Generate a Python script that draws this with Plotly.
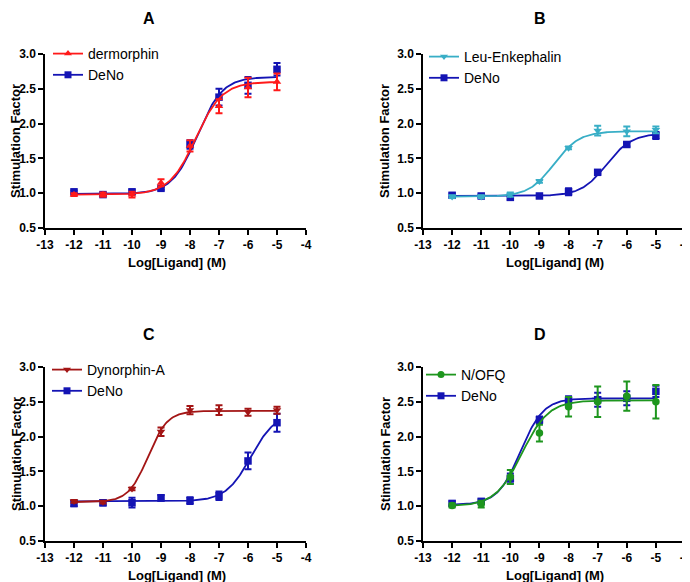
import numpy as np
import plotly.graph_objects as go

# ---------------- data ----------------
log_conc = [-12, -11, -10, -9, -8, -7, -6, -5]

# Panel A
a_derm_mean = [0.98, 0.98, 0.98, 1.15, 1.68, 2.25, 2.52, 2.60]
a_derm_err = [0.02, 0.03, 0.04, 0.05, 0.08, 0.10, 0.14, 0.12]
a_deno_mean = [1.02, 0.98, 1.02, 1.07, 1.70, 2.38, 2.55, 2.78]
a_deno_err = [0.02, 0.02, 0.03, 0.02, 0.06, 0.12, 0.12, 0.09]

# Panel B
b_leu_mean = [0.95, 0.95, 0.98, 1.17, 1.65, 1.90, 1.89, 1.91]
b_leu_err = [0.02, 0.02, 0.03, 0.02, 0.02, 0.07, 0.07, 0.05]
b_deno_mean = [0.97, 0.96, 0.94, 0.96, 1.02, 1.30, 1.70, 1.83]
b_deno_err = [0.03, 0.02, 0.03, 0.02, 0.05, 0.02, 0.03, 0.05]

# Panel C
c_dyn_mean = [1.07, 1.06, 1.25, 2.07, 2.38, 2.38, 2.35, 2.38]
c_dyn_err = [0.02, 0.02, 0.02, 0.06, 0.06, 0.07, 0.05, 0.05]
c_deno_mean = [1.04, 1.05, 1.05, 1.12, 1.08, 1.15, 1.65, 2.20]
c_deno_err = [0.04, 0.04, 0.07, 0.04, 0.05, 0.06, 0.12, 0.13]

# Panel D
d_nofq_mean = [1.01, 1.03, 1.42, 2.05, 2.43, 2.50, 2.58, 2.50]
d_nofq_err = [0.03, 0.05, 0.10, 0.12, 0.14, 0.22, 0.21, 0.24]
d_deno_mean = [1.04, 1.07, 1.40, 2.24, 2.52, 2.53, 2.55, 2.65]
d_deno_err = [0.03, 0.03, 0.07, 0.05, 0.06, 0.10, 0.10, 0.08]

# fitted 4-parameter logistic parameters: [bottom, top, logEC50, hill]
fit_a_derm = [0.98, 2.60, -7.80, 0.95]
fit_a_deno = [0.99, 2.67, -7.75, 1.00]
fit_b_leu = [0.95, 1.89, -8.50, 1.00]
fit_b_deno = [0.96, 1.86, -6.70, 1.00]
fit_c_dyn = [1.06, 2.37, -9.45, 1.30]
fit_c_deno = [1.07, 2.35, -5.90, 1.00]
fit_d_nofq = [1.00, 2.52, -9.60, 0.95]
fit_d_deno = [1.02, 2.55, -9.65, 1.10]

panel_titles = ["A", "B", "C", "D"]
x_ticks = [-13, -12, -11, -10, -9, -8, -7, -6, -5, -4]
y_ticks = [0.5, 1.0, 1.5, 2.0, 2.5, 3.0]

# colours
RED = "#FF1A1A"
BLUE = "#1414B4"
TEAL = "#38AEC6"
DARKRED = "#A31515"
GREEN = "#1E961E"

FONT = "Liberation Sans, Arial, sans-serif"
W, H = 690, 582
PAD = 8  # the page body margin that offsets the figure in the browser


def px(xp):
    return (xp - PAD) / W


def py(yp):
    return 1 - (yp - PAD) / H


def curve(p):
    xs = np.linspace(log_conc[0], log_conc[-1], 200)
    b, t, ec, h = p
    return xs, b + (t - b) / (1 + 10 ** ((ec - xs) * h))


# plot area boxes in page pixels (left, right, top, bottom)
boxes = [(45, 306, 54, 228), (423, 685, 54, 228), (45, 306, 367, 541), (423, 685, 367, 541)]

panels = [
    [("dermorphin", a_derm_mean, a_derm_err, fit_a_derm, RED, "triangle-up"),
     ("DeNo", a_deno_mean, a_deno_err, fit_a_deno, BLUE, "square")],
    [("Leu-Enkephalin", b_leu_mean, b_leu_err, fit_b_leu, TEAL, "triangle-down"),
     ("DeNo", b_deno_mean, b_deno_err, fit_b_deno, BLUE, "square")],
    [("Dynorphin-A", c_dyn_mean, c_dyn_err, fit_c_dyn, DARKRED, "triangle-down"),
     ("DeNo", c_deno_mean, c_deno_err, fit_c_deno, BLUE, "square")],
    [("N/OFQ", d_nofq_mean, d_nofq_err, fit_d_nofq, GREEN, "circle"),
     ("DeNo", d_deno_mean, d_deno_err, fit_d_deno, BLUE, "square")],
]

fig = go.Figure()
layout = dict(
    width=W, height=H, margin=dict(l=0, r=0, t=0, b=0, autoexpand=False),
    paper_bgcolor="white", plot_bgcolor="white",
    font=dict(family=FONT, color="black"),
    annotations=[],
)

legend_x = [48, 424, 47, 421]
legend_y = [38, 41, 354, 359]
title_xs = [149, 540, 149, 540]
title_ys = [9, 9, 330, 330]

for i, (series, box) in enumerate(zip(panels, boxes)):
    n = i + 1
    xa = "x" if n == 1 else f"x{n}"
    ya = "y" if n == 1 else f"y{n}"
    leg = "legend" if n == 1 else f"legend{n}"
    l, r, t, b = box
    for name, mean, err, fit, color, sym in reversed(series):
        cx, cy = curve(fit)
        fig.add_trace(go.Scatter(x=cx, y=cy, mode="lines", line=dict(color=color, width=1.8),
                                 xaxis=xa, yaxis=ya, showlegend=False, hoverinfo="skip"))
        fig.add_trace(go.Scatter(x=log_conc, y=mean, mode="markers",
                                 marker=dict(symbol=sym, color=color, size=7.5),
                                 error_y=dict(type="data", array=err, color=color, thickness=2, width=3.5),
                                 xaxis=xa, yaxis=ya, showlegend=False))
    for name, mean, err, fit, color, sym in series:
        fig.add_trace(go.Scatter(x=[None], y=[None], mode="lines+markers", name=name,
                                 line=dict(color=color, width=1.8),
                                 marker=dict(symbol=sym, color=color, size=7),
                                 xaxis=xa, yaxis=ya, legend=leg, showlegend=True))
    axkey_x = "xaxis" if n == 1 else f"xaxis{n}"
    axkey_y = "yaxis" if n == 1 else f"yaxis{n}"
    layout[axkey_x] = dict(
        domain=[px(l), px(r)], anchor=ya, range=[-13, -4], tickvals=x_ticks, automargin=False,
        ticktext=[str(v) for v in x_ticks], showline=True, linecolor="black", linewidth=1.5,
        ticks="outside", ticklen=5, tickwidth=1.5, tickcolor="black", showgrid=False, zeroline=False,
        tickfont=dict(family=FONT, size=12, weight="bold", color="black"),
    )
    layout[axkey_y] = dict(
        domain=[py(b), py(t)], anchor=xa, range=[0.5, 3.0], tickvals=y_ticks, automargin=False,
        ticktext=[f"{v:.1f}" for v in y_ticks], showline=True, linecolor="black", linewidth=1.5,
        ticks="outside", ticklen=5, tickwidth=1.5, tickcolor="black", showgrid=False, zeroline=False,
        tickfont=dict(family=FONT, size=12, weight="bold", color="black"),
    )
    layout[leg] = dict(
        x=px(legend_x[i]), y=py(legend_y[i]), xanchor="left", yanchor="top",
        bgcolor="rgba(0,0,0,0)", font=dict(family=FONT, size=14, color="black"),
        tracegroupgap=0, itemwidth=30,
    )
    # panel title (top titles pinned to the top edge of the figure)
    layout["annotations"].append(dict(
        text=f"<b>{panel_titles[i]}</b>", x=px(title_xs[i]),
        y=min(py(title_ys[i] - 6), 1.0), xref="paper", yref="paper",
        showarrow=False, xanchor="center", yanchor="top", font=dict(family=FONT, size=16)))
    # x-axis title
    layout["annotations"].append(dict(
        text="<b>Log[Ligand] (M)</b>", x=px((l + r) / 2 + 1), y=py(b + 34), xref="paper", yref="paper",
        showarrow=False, xanchor="center", yanchor="middle", font=dict(family=FONT, size=13)))
    # y-axis title (kept fully inside the figure)
    ytitle_x = max(l - 38, PAD + 8)
    layout["annotations"].append(dict(
        text="<b>Stimulation Factor</b>", x=px(ytitle_x), y=py((t + b) / 2), xref="paper", yref="paper",
        showarrow=False, xanchor="center", yanchor="middle", textangle=-90, borderpad=0,
        font=dict(family=FONT, size=13)))

fig.update_layout(**layout)
fig.write_html("out.html")
